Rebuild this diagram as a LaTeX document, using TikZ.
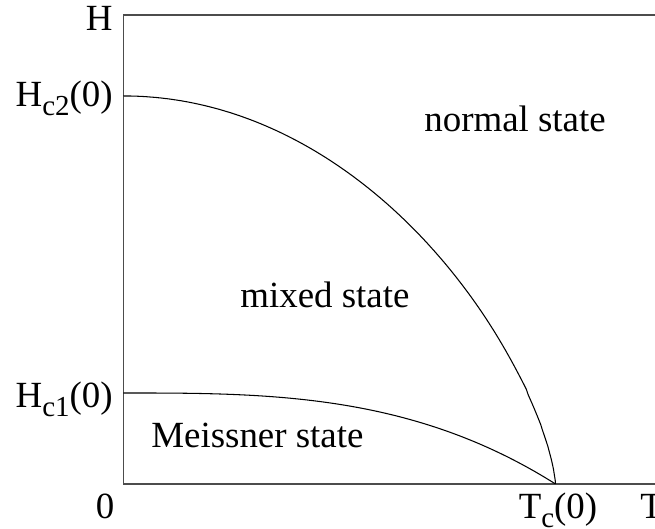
\documentclass[tikz,border=0pt]{standalone}
\usepackage{fontspec}
\setmainfont{Liberation Serif}
\usetikzlibrary{positioning}

\newcommand{\lowidx}[1]{\raisebox{-0.22em}{\fontsize{16.5}{16.5}\selectfont #1}}

\tikzset{
  axis/.style={line width=0.85pt, black!70},
  phase/.style={line width=0.6pt, black},
  lbl/.style={inner sep=0pt, font=\fontsize{21}{25}\selectfont}
}

\begin{document}
\begin{tikzpicture}
  \useasboundingbox (-2.47,-0.9) rectangle (10.63,9.68);

  % Axes
  \coordinate (O) at (0,0);
  \coordinate (Tc) at (8.64,0);
  \coordinate (Hc2) at (0,7.76);
  \coordinate (Hc1) at (0,1.82);
  \draw[axis] (10.63,9.38) -- (0,9.38) -- (O) -- (10.63,0);

  % Critical fields
  \draw[phase, domain=0:0.9995, samples=240]
    plot ({8.64*\x}, {7.76*(1-\x*\x)^0.7}) -- (Tc);
  \draw[phase, domain=0:1, samples=120]
    plot ({8.64*\x}, {1.82*(1-\x*\x*\x)});

  % Axis labels
  \node[lbl, anchor=base east] (hlab) at (-0.21,9.06) {H};
  \node[lbl, anchor=base east] (hctwo) at (-0.21,7.54) {H\lowidx{c2}(0)};
  \node[lbl, anchor=base east] (hcone) at (-0.21,1.52) {H\lowidx{c1}(0)};
  \node[lbl, anchor=base] (zero) at (-0.37,-0.70) {0};
  \node[lbl, anchor=base] (tclab) at (8.69,-0.70) {T\lowidx{c}(0)};
  \node[lbl, anchor=base west] (tlab) at (10.33,-0.70) {T};

  % Phases
  \node[lbl, anchor=base west] (normal) at (6.01,7.04) {normal state};
  \node[lbl, anchor=base west] (mixed) at (2.33,3.52) {mixed state};
  \node[lbl, anchor=base west] (meissner) at (0.55,0.72) {Meissner state};
\end{tikzpicture}
\end{document}
